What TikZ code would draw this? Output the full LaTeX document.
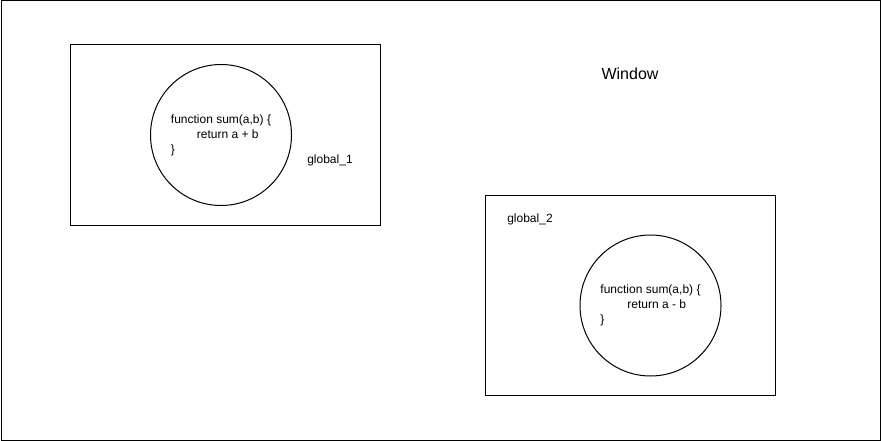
\documentclass[tikz,border=0pt]{standalone}
\usepackage{fontspec}
\setmainfont{Liberation Sans}
\usetikzlibrary{positioning}

\begin{document}
\begin{tikzpicture}[
        x=1pt, y=-1pt,
        font=\fontsize{12}{15}\selectfont,
        frame/.style={draw, line width=1pt, inner sep=0pt},
        scopebox/.style={frame, minimum width=310pt, minimum height=180pt},
        fnball/.style={frame, circle, minimum size=141pt, align=left},
        tag/.style={inner sep=0pt},
    ]
        \useasboundingbox (0,0) rectangle (881,441);

        % --- outer window ---
        \node[frame, minimum width=879pt, minimum height=439pt] (win) at (440.5,220.5) {};
        \node[tag, font=\fontsize{16}{19}\selectfont] (winlabel) at (630,74) {Window};

        % --- first global ---
        \node[scopebox] (g1) at (225,135) {};
        \node[fnball] (sum1) at (221,135) {function sum(a,b) \{\\\hspace*{26pt}return a + b\\\}};
        \node[tag] (g1label) at (330,160) {global\_1};

        % --- second global ---
        \node[scopebox, minimum width=290pt, minimum height=200pt] (g2) at (630,295) {};
        \node[fnball] (sum2) at (650.5,305.5) {function sum(a,b) \{\\\hspace*{27pt}return a - b\\\}};
        \node[tag] (g2label) at (530,219) {global\_2};

\end{tikzpicture}
\end{document}
